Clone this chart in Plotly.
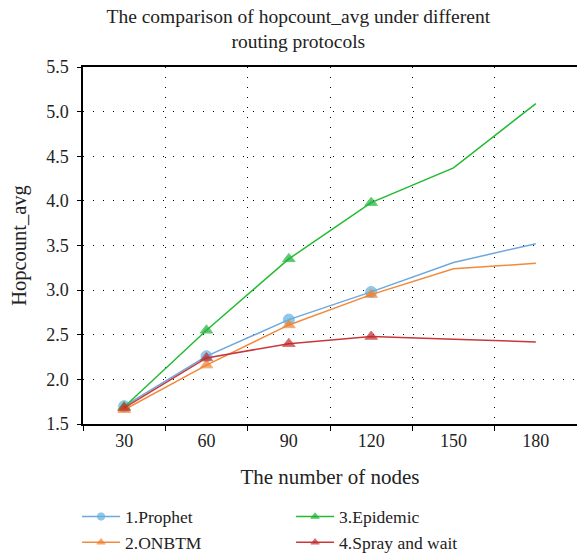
import plotly.graph_objects as go

nodes = [30, 60, 90, 120, 150, 180]
prophet = [1.70, 2.26, 2.67, 2.98, 3.31, 3.52]
onbtm = [1.66, 2.16, 2.61, 2.95, 3.24, 3.30]
epidemic = [1.69, 2.55, 3.35, 3.98, 4.37, 5.09]
spray = [1.68, 2.24, 2.40, 2.48, 2.45, 2.42]
marker_on = [True, True, True, True, False, False]

FONT = "Liberation Serif"

def sizes(s):
    return [s if m else 0 for m in marker_on]

fig = go.Figure()
fig.add_trace(go.Scatter(x=nodes, y=prophet, name="1.Prophet", mode="lines+markers",
                         line=dict(color="#6fa8dc", width=1.5),
                         marker=dict(symbol="circle", size=sizes(11), color="#5ab4e4")))
fig.add_trace(go.Scatter(x=nodes, y=epidemic, name="3.Epidemic", mode="lines+markers",
                         line=dict(color="#22bb33", width=1.5),
                         marker=dict(symbol="triangle-up", size=sizes(11), color="#17b03a")))
fig.add_trace(go.Scatter(x=nodes, y=onbtm, name="2.ONBTM", mode="lines+markers",
                         line=dict(color="#f28a3c", width=1.5),
                         marker=dict(symbol="triangle-up", size=sizes(11), color="#f07f2a")))
fig.add_trace(go.Scatter(x=nodes, y=spray, name="4.Spray and wait", mode="lines+markers",
                         line=dict(color="#c8383a", width=1.5),
                         marker=dict(symbol="triangle-up", size=sizes(11), color="#c0282a")))

fig.update_layout(
    width=577, height=553,
    margin=dict(l=83, r=0, t=67, b=129, autoexpand=False),
    paper_bgcolor="white", plot_bgcolor="white",
    font=dict(family=FONT, size=18, color="#222"),
    title=dict(text="The comparison of hopcount_avg under different<br>routing protocols",
               x=0.517, xanchor="center", xref="container", y=0.959, yanchor="middle",
               font=dict(family=FONT, size=19.5, color="#222")),
    xaxis=dict(range=[15, 195], tickvals=nodes, ticks="", showgrid=False,
               showline=True, linecolor="black", linewidth=1.5, mirror=True,
               zeroline=False, tickfont=dict(size=18), automargin=False,
               title=dict(text="The number of nodes", font=dict(size=21), standoff=19),
               minor=dict(tick0=15, dtick=30, ticks="outside", ticklen=5, tickcolor="black",
                          showgrid=True, gridcolor="black", griddash="1px,9px", gridwidth=1)),
    yaxis=dict(range=[1.5, 5.5], dtick=0.5, tickformat=".1f", ticks="outside", ticklen=4,
               tickcolor="black", showline=True, linecolor="black", linewidth=1.5,
               zeroline=False, showgrid=True, gridcolor="black", griddash="1px,9px",
               gridwidth=1, tickfont=dict(size=18), automargin=False, ticklabelstandoff=5,
               title=dict(text="Hopcount_avg", font=dict(size=20.5), standoff=14)),
    legend=dict(orientation="h", x=-0.012, xanchor="left", y=-0.209, yanchor="top",
                entrywidth=161, entrywidthmode="pixels", tracegroupgap=0, itemwidth=38,
                font=dict(family=FONT, size=17.5, color="#222"), bgcolor="rgba(0,0,0,0)"),
)

fig.write_html("out.html", config={"displayModeBar": False},
               post_script="document.body.style.margin='0';")
